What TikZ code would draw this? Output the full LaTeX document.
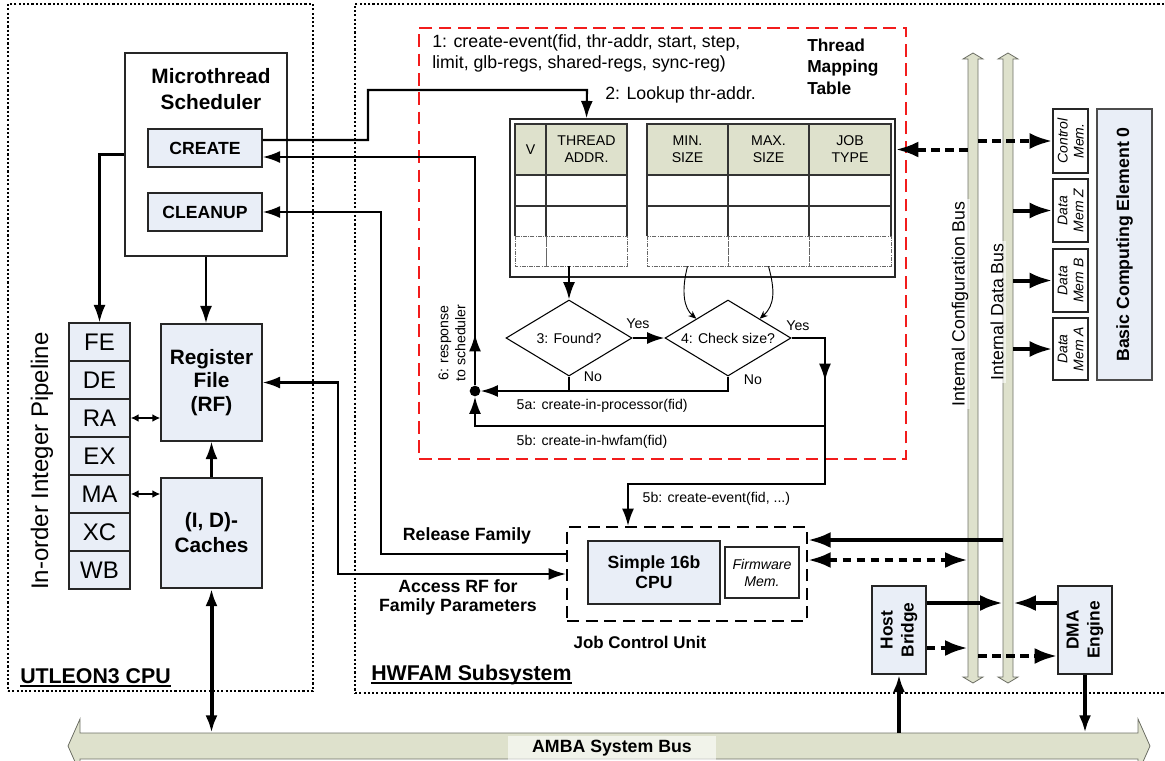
\documentclass[tikz,border=0pt]{standalone}
\usepackage{fontspec}
\setmainfont{Liberation Sans}
\usepackage{tikz}
\usetikzlibrary{shapes.geometric, arrows.meta, positioning, calc, fit}
\definecolor{blkblue}{HTML}{E9EEF7}
\definecolor{busolive}{HTML}{DEE1CC}
\definecolor{mapred}{HTML}{F21C1C}
\definecolor{busline}{HTML}{6E7066}

\newcommand{\fsmall}{\fontsize{10.6}{12.75}\selectfont}
\newcommand{\fmid}{\fontsize{13.3}{15.75}\selectfont}
\newcommand{\fblk}{\fontsize{15.6}{18.5}\selectfont\bfseries}
\newcommand{\fsec}{\fontsize{16}{19}\selectfont\bfseries}

\tikzset{
  subframe/.style={draw, line width=1pt, dash pattern=on 1.6pt off 1.6pt, inner sep=0pt},
  blk/.style={draw=black!85, line width=1.1pt, fill=blkblue, inner sep=0pt},
  plainblk/.style={draw=black!85, line width=1pt, fill=white, inner sep=0pt},
  wire/.style={line width=1.6pt},
  fatwire/.style={line width=3pt},
  dashwire/.style={line width=3pt, dash pattern=on 6.5pt off 4pt},
  arr/.style={-{Latex[length=13pt,width=9pt]}},
  biarr/.style={{Latex[length=13pt,width=9pt]}-{Latex[length=13pt,width=9pt]}},
  bigarr/.style={-{Latex[length=17pt,width=12pt]}},
  bigbiarr/.style={{Latex[length=17pt,width=12pt]}-{Latex[length=17pt,width=12pt]}},
  smallbiarr/.style={{Latex[length=6pt,width=6pt]}-{Latex[length=6pt,width=6pt]}},
  thinarr/.style={-{Stealth[length=6pt,width=5pt]}},
  decision/.style={diamond, draw, line width=0.8pt, aspect=1.66, minimum width=94.5pt, minimum height=57pt, inner sep=0pt, font=\fsmall},
  cell/.style={draw=black!80, line width=0.8pt},
  ghostcell/.style={draw=black!60, line width=0.5pt, densely dashdotted},
  bus/.style={fill=busolive, draw=busline, line width=0.6pt},
  buslbl/.style={rotate=90, font=\fmid, fill=white, fill opacity=0.6, text opacity=1, inner sep=1.5pt}
}

\begin{document}
\begin{tikzpicture}[x=0.75pt, y=-0.75pt]
\useasboundingbox (0,0) rectangle (1165,761);

% subsystem frames
\node[subframe, fit={(8,4) (313,691)}] (cpu) {};
\node[subframe, fit={(355,4) (1168,693)}] (hwfam) {};
\node[draw=mapred, line width=1.6pt, dash pattern=on 9.5pt off 5pt, fit={(419,28) (906,459)}, inner sep=0pt] (tmt) {};

\node[font=\fsec, anchor=base west, inner sep=0pt] (cpulbl) at (20,683) {UTLEON3 CPU};
\draw[line width=1.4pt] ([yshift=-2.2pt]cpulbl.base west) -- ([yshift=-2.2pt]cpulbl.base east);
\node[font=\fsec, anchor=base west, inner sep=0pt] (hwlbl) at (371,680) {HWFAM Subsystem};
\draw[line width=1.4pt] ([yshift=-2.2pt]hwlbl.base west) -- ([yshift=-2.2pt]hwlbl.base east);

% UTLEON3 side
\node[draw=black!85, line width=1.1pt, fit={(125,53) (287,256)}, inner sep=0pt] (sched) {};
\node[font=\fontsize{15.6}{19.5}\selectfont\bfseries, align=center] (schedlbl) at (211,89) {Microthread\\Scheduler};
\node[blk, fit={(148,129) (262,167)}] (create) {};
\node[font=\fontsize{13.2}{15}\selectfont\bfseries] (createlbl) at (create) {CREATE};
\node[blk, fit={(148,193) (262,231)}] (cleanup) {};
\node[font=\fontsize{13.2}{15}\selectfont\bfseries] (cleanuplbl) at (cleanup) {CLEANUP};
\foreach \s [count=\i] in {FE,DE,RA,EX,MA,XC,WB}
  \node[blk, minimum width=45.75pt, minimum height=28.5pt, font=\fontsize{18}{20}\selectfont] (\s) at (99.5,304+38*\i) {\s};
\node[blk, fit={(161,324) (262,441)}] (rf) {};
\node[font=\fontsize{15.6}{17.6}\selectfont\bfseries, align=center] (rflbl) at (rf) {Register\\File\\(RF)};
\node[blk, fit={(161,478) (262,588)}] (cache) {};
\node[font=\fontsize{15.6}{18.75}\selectfont\bfseries, align=center] (cachelbl) at (cache) {(I, D)-\\Caches};
\node[rotate=90, font=\fontsize{18}{20}\selectfont] (pipelbl) at (42,461) {In-order Integer Pipeline};

\draw[wire, arr] (sched.west) -| (FE.north);
\draw[wire, arr] (sched.south) -- (sched.south |- rf.north);
\draw[wire, arr] (cache.north) -- (rf.south);
\draw[wire, smallbiarr] (RA.east) -- (RA.east -| rf.west);
\draw[wire, smallbiarr] (MA.east) -- (MA.east -| cache.west);

% thread mapping table
\node[font=\fmid, align=left, anchor=west, inner sep=0pt] (ev1) at (432,53.5) {1: create-event(fid, thr-addr, start, step,\\limit, glb-regs, shared-regs, sync-reg)};
\node[font=\fmid, anchor=west, inner sep=0pt] (lookup) at (605,95) {2: Lookup thr-addr.};
\node[font=\fontsize{13}{16}\selectfont\bfseries, align=left, anchor=west, inner sep=0pt] (tmtlbl) at (807,66.5) {Thread\\Mapping\\Table};

\node[draw=black!85, line width=1.1pt, fill=white, fit={(510,119) (895,277)}, inner sep=0pt] (tbl) {};
\foreach \xa/\xb in {515/546, 546/627, 647/728, 728/809, 809/891} {
  \draw[cell, fill=busolive] (\xa,124) rectangle (\xb,175);
  \draw[cell] (\xa,175) rectangle (\xb,206);
  \draw[cell] (\xa,236) -- (\xa,206) -- (\xb,206) -- (\xb,236);
  \draw[ghostcell] (\xa,236) rectangle (\xb,266);
}
\node[fit={(515,124) (627,266)}, inner sep=0pt] (lgrp) {};
\node[fit={(647,124) (891,266)}, inner sep=0pt] (rgrp) {};
\foreach \nm/\cx/\txt in {vbit/530.5/V, thraddr/586.5/{THREAD\\ADDR.}, minsz/687.5/{MIN.\\SIZE}, maxsz/768.5/{MAX.\\SIZE}, jobtype/850/{JOB\\TYPE}}
  \node[font=\fontsize{10.6}{12.75}\selectfont, align=center] (\nm) at (\cx,149.5) {\txt};

\node[decision] (found) at (569,338) {3: Found?};
\node[decision] (check) at (728,338) {4: Check size?};
\node[circle, fill, inner sep=0pt, minimum size=8pt] (dot) at (475,391) {};
\coordinate (j5b) at (825,426);

% job control unit
\node[draw, line width=1.5pt, dash pattern=on 9pt off 5pt, fit={(567,527) (807,621)}, inner sep=0pt] (jcu) {};
\node[blk, fit={(588,541) (720,604)}] (cpu16) {};
\node[font=\fontsize{13.2}{15}\selectfont\bfseries, align=center] (cpu16lbl) at (cpu16) {Simple 16b\\CPU};
\node[plainblk, fit={(725,547) (799,598)}] (fwmem) {};
\node[font=\fsmall\itshape, align=center] (fwmemlbl) at (fwmem) {Firmware\\Mem.};
\node[font=\fontsize{12.7}{15}\selectfont\bfseries] (jculbl) at (640,642) {Job Control Unit};
\node[font=\fmid\bfseries] (rellbl) at (467,536) {Release Family};
\node[font=\fontsize{13.3}{14.3}\selectfont\bfseries, align=center] (acclbl) at (458,597) {Access RF for\\Family Parameters};

% flow inside the table region
\draw[wire, arr] ([yshift=6pt]create.east) -- (368,140) |- (587,90) -- (thraddr |- tbl.north);
\draw[wire, arr] (found |- lgrp.south) -- (found.north);
\draw[line width=0.7pt, thinarr] (minsz |- rgrp.south) .. controls (681,292) and (684,308) .. (check.north west);
\draw[line width=0.7pt, thinarr] (maxsz |- rgrp.south) .. controls (775,290) and (775,305) .. (check.north east);
\draw[wire, arr] (found.east) -- (check.west);
\node[font=\fsmall] (yes1) at (638,324) {Yes};
\node[font=\fsmall] (yes2) at (798,326) {Yes};
\node[font=\fsmall] (no1) at (593,377) {No};
\node[font=\fsmall] (no2) at (753,380) {No};
\draw[wire] (found.south) -- (found.south |- dot);
\draw[wire, arr] (check.south) |- (dot);
\draw[wire, arr] (check.east) -| (825,381);
\draw[wire, arr] (check.east) -| (825,484) -| ([xshift=-44.25pt]jcu.north);
\draw[wire, arr] (j5b) -| (dot);
\draw[wire, arr] (dot) -- (475,334);
\draw[wire, arr] (dot) |- ([yshift=-6.75pt]create.east);
\node[font=\fsmall, anchor=west] (l5a) at (512,406) {5a: create-in-processor(fid)};
\node[font=\fsmall, anchor=west] (l5b) at (512,442) {5b: create-in-hwfam(fid)};
\node[font=\fsmall, rotate=90, align=center] (l6) at (452,343) {6: response\\to scheduler};
\node[font=\fsmall, anchor=west] (l5bev) at (638,499) {5b: create-event(fid, ...)};

\draw[wire, arr] ([yshift=15pt]jcu.west) -| (381,212) -- (cleanup.east);
\draw[wire, biarr] (rf.east) -| (338,574) -- (jcu.west);

% internal buses
\foreach \bx/\bn in {973/cfgbus, 1008/databus} {
  \filldraw[bus] (\bx,53) -- (\bx+10,59) -- (\bx+5,59) -- (\bx+5,677) -- (\bx+10,677) -- (\bx,683) -- (\bx-10,677) -- (\bx-5,677) -- (\bx-5,59) -- (\bx-10,59) -- cycle;
  \node[fit={(\bx-5,59) (\bx+5,677)}, inner sep=0pt] (\bn) {};
}
\node[buslbl] (cfglbl) at (960,304) {Internal Configuration Bus};
\node[buslbl] (datalbl) at (997,312) {Internal Data Bus};

% basic computing element
\node[blk, draw=black!70, fit={(1097,109) (1152,380)}] (bce) {};
\node[rotate=90, font=\fontsize{13.3}{16}\selectfont\bfseries] (bcelbl) at (bce) {Basic Computing Element 0};
\foreach \nm/\ya/\yb/\txt in {ctrl/109/173/{Control\\Mem.}, memz/179/242/{Data\\Mem Z}, memb/249/312/{Data\\Mem B}, mema/318/380/{Data\\Mem A}} {
  \node[plainblk, fit={(1053,\ya) (1088,\yb)}] (\nm) {};
  \node[rotate=90, align=center, font=\fontsize{10.5}{12}\selectfont\itshape] at (\nm) {\txt};
}
\draw[dashwire, bigarr] (cfgbus.west |- jobtype) -- (tbl.east |- jobtype);
\draw[dashwire, bigarr] (cfgbus.east |- ctrl) -- (ctrl.west);
\foreach \nm in {memz, memb, mema}
  \draw[fatwire, bigarr] (databus.east |- \nm) -- (\nm.west);

\coordinate (jin) at ([yshift=25.5pt]jcu.east);
\coordinate (jcfg) at ([yshift=10.5pt]jcu.east);
\draw[fatwire, bigarr] (databus.west |- jin) -- (jin);
\draw[dashwire, bigbiarr] (jcfg) -- (cfgbus.west |- jcfg);

% host bridge and dma
\node[blk, fit={(872,586) (926,674)}] (hb) {};
\node[rotate=90, font=\fontsize{13}{15.75}\selectfont\bfseries, align=center] (hblbl) at (hb) {Host\\Bridge};
\node[blk, fit={(1058,586) (1112,674)}] (dma) {};
\node[rotate=90, font=\fontsize{13}{15.75}\selectfont\bfseries, align=center] (dmalbl) at (dma) {DMA\\Engine};
\coordinate (hbd) at ([yshift=20.25pt]hb.east);
\coordinate (hbc) at ([yshift=-13.5pt]hb.east);
\coordinate (dmc) at ([yshift=-19.5pt]dma.west);
\draw[fatwire, bigarr] (hbd) -- (databus.west |- hbd);
\draw[fatwire, bigarr] (dma.west |- hbd) -- (databus.east |- hbd);
\draw[dashwire, bigarr] (hbc) -- (cfgbus.west |- hbc);
\draw[dashwire, bigarr] (cfgbus.east |- dmc) -- (dmc);

% AMBA system bus
\filldraw[bus] (68,746) -- (80,719) -- (80,733) -- (1138,733) -- (1138,719) -- (1150,746) -- (1138,773) -- (1138,759) -- (80,759) -- (80,773) -- cycle;
\node[fit={(80,733) (1138,759)}, inner sep=0pt] (amba) {};
\node[font=\fmid\bfseries, fill=white, fill opacity=0.6, text opacity=1, minimum width=156pt] (ambalbl) at (612,748) {AMBA System Bus};
\draw[fatwire, biarr] (cache.south) -- (cache.south |- amba.north);
\draw[fatwire, arr] (hb.south |- amba.north) -- (hb.south);
\draw[fatwire, arr] (dma.south) -- (dma.south |- amba.north);
\end{tikzpicture}
\end{document}
